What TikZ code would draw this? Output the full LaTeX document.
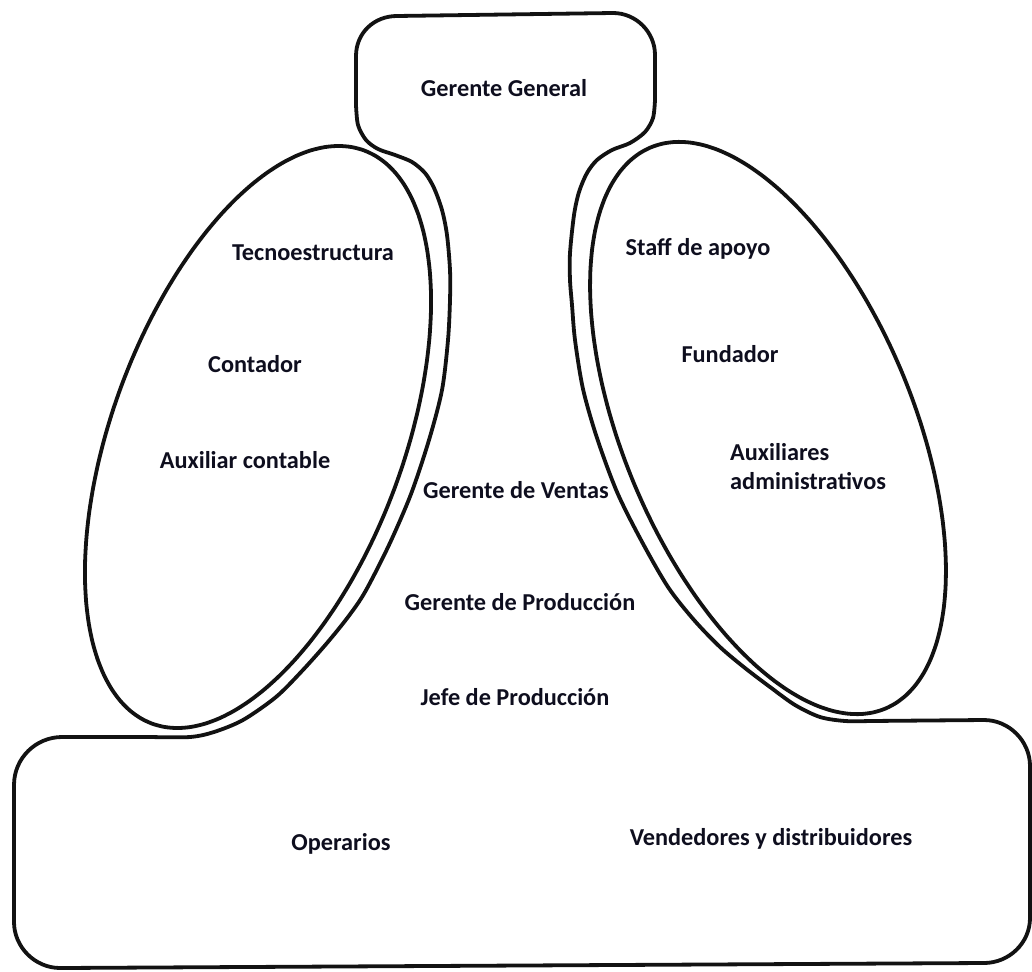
\documentclass[tikz,border=0pt]{standalone}
\usepackage{fontspec}
\setmainfont{Carlito}
\definecolor{ink}{RGB}{18,18,18}
\definecolor{txt}{RGB}{14,14,30}
\begin{document}
\begin{tikzpicture}[x=1pt,y=-1pt,
  outline/.style={draw=ink, line width=3.8pt, line join=round, line cap=round},
  txtnode/.style={font=\bfseries\fontsize{24.3}{29}\selectfont, text=txt, inner sep=0pt, anchor=base}]
\useasboundingbox (0,0) rectangle (1032,971);

% outer contour: strategic apex, middle line and operating core
\draw[outline] (356,105)
  -- (356,56) .. controls (356,33) and (374,16) .. (397,16)
  -- (613,13) .. controls (636,13) and (655,32) .. (655,55)
  -- (655,100)
  -- plot[smooth] coordinates {(655,100) (653,118) (645,132) (630,143) (612,150)
       (597,160) (587,173) (579,192) (574,215) (570,253) (570,280) (572,305)
       (575,340) (583,389) (597,438) (617,492) (641,540) (668,587) (694,620)
       (720,647) (745,668) (770,687) (795,705) (820,717) (845,721) (870,721)}
  -- (984,720) .. controls (1009,720) and (1030,741) .. (1030,766)
  -- (1030,918) .. controls (1030,943) and (1009,963) .. (984,963)
  -- (60,968) .. controls (35,968) and (14,947) .. (14,922)
  -- (14,785) .. controls (14,758) and (36,737) .. (62,737)
  -- (150,737)
  -- plot[smooth] coordinates {(150,737) (190,737) (214,732) (243,720) (276,697)
       (302,671) (327,643) (348,617) (365,592) (389,545) (411,494) (429,440)
       (442,390) (448,340) (450,300) (450,270) (447,235) (442,210) (434,188)
       (425,173) (412,162) (395,155) (378,149) (366,140) (358,125) (356,105)}
  -- cycle;

% technostructure (left) and support staff (right)
\draw[outline] plot[smooth cycle, domain=0:355, samples=72, variable=\t]
  ({258+106.0*cos(\t)+136.8*sin(\t)}, {437-286.6*cos(\t)+50.6*sin(\t)});
\draw[outline] plot[smooth cycle, domain=0:355, samples=72, variable=\t]
  ({768-117.3*cos(\t)-133.8*sin(\t)}, {428-280.6*cos(\t)+56.0*sin(\t)});

% labels
\node[txtnode] (gg)    at (504,96)  {Gerente General};
\node[txtnode] (tec)   at (313,260) {Tecnoestructura};
\node[txtnode] (cont)  at (255,372) {Contador};
\node[txtnode] (auxc)  at (245,468) {Auxiliar contable};
\node[txtnode] (gv)    at (516,498) {Gerente de Ventas};
\node[txtnode] (gp)    at (520,610) {Gerente de Producción};
\node[txtnode] (jp)    at (515,705) {Jefe de Producción};
\node[txtnode] (staff) at (698,255) {Staff de apoyo};
\node[txtnode] (fund)  at (730,362) {Fundador};
\node[txtnode, align=left, anchor=west] (auxa) at (730,467) {Auxiliares\\administrativos};
\node[txtnode] (oper)  at (341,850) {Operarios};
\node[txtnode] (vend)  at (771,845) {Vendedores y distribuidores};
\end{tikzpicture}
\end{document}
